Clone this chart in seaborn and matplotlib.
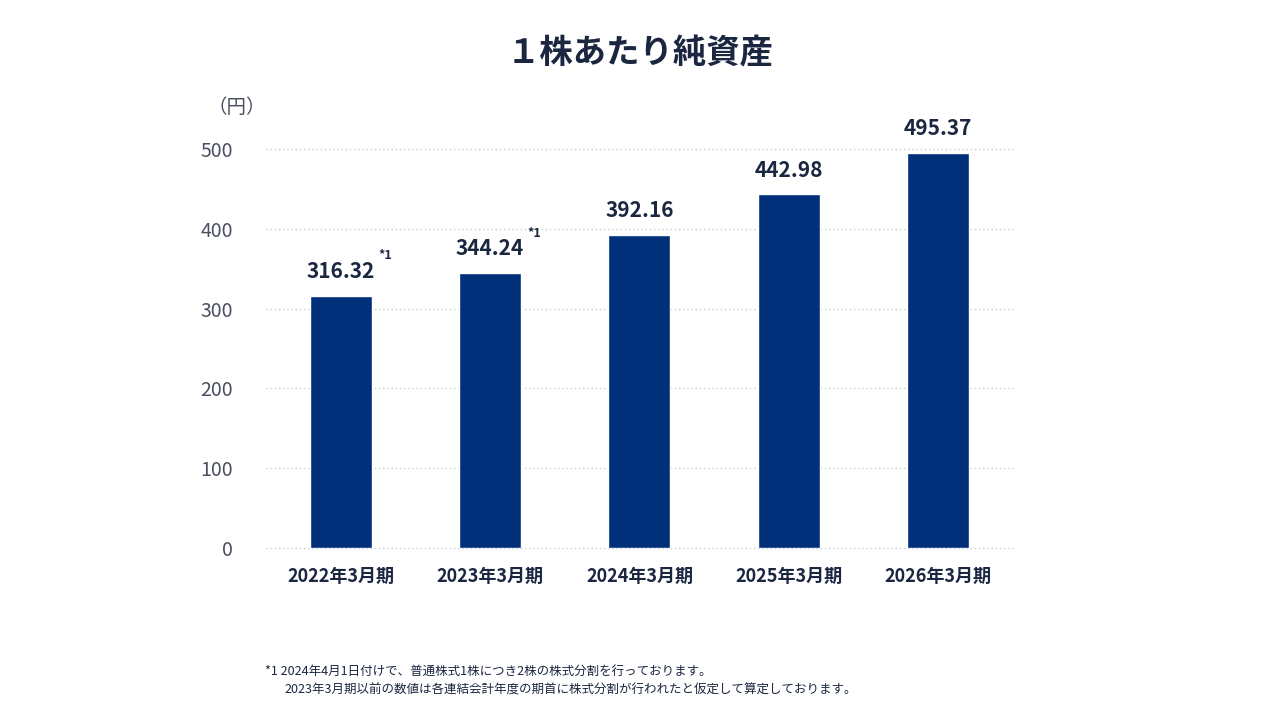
import matplotlib
matplotlib.use("Agg")
import matplotlib.pyplot as plt
import seaborn as sns
import pandas as pd

periods = ["2022年3月期", "2023年3月期", "2024年3月期", "2025年3月期", "2026年3月期"]
bps = [316.32, 344.24, 392.16, 442.98, 495.37]
notes = ["*1", "*1", "", "", ""]
yticks = [0, 100, 200, 300, 400, 500]

sns.set_style("white")
plt.rcParams['font.family'] = ['Noto Sans CJK JP', 'DejaVu Sans']

txt = "#1b2640"
fig = plt.figure(figsize=(12.8, 7.2), dpi=100)
ax = fig.add_axes([0.2078, 0.2389, 0.5836, 0.5542])

df = pd.DataFrame({"period": periods, "bps": bps})
sns.barplot(data=df, x="period", y="bps", color="#00307a", saturation=1, width=0.415, ax=ax, zorder=3)

ax.set_xlim(-0.5, 4.5)
ax.set_ylim(0, 500)
ax.set_yticks(yticks)
ax.set_yticklabels([str(t) for t in yticks], fontsize=14, color="#4a5060")
ax.tick_params(axis="y", length=0, pad=24)
ax.tick_params(axis="x", length=0, pad=14)
for lbl in ax.get_xticklabels():
    lbl.set_fontsize(13)
    lbl.set_fontweight("bold")
    lbl.set_color(txt)
ax.set_xlabel("")
ax.set_ylabel("")
for s in ax.spines.values():
    s.set_visible(False)
for t in yticks:
    ax.axhline(t, color="#cccccc", linestyle=(0, (1, 2)), linewidth=1, zorder=1, clip_on=False)

for i, (v, n) in enumerate(zip(bps, notes)):
    ax.annotate(f"{v:.2f}", (i, v), xytext=(0, 10), textcoords="offset points",
                ha="center", va="bottom", fontsize=15, fontweight="bold", color=txt, annotation_clip=False)
    if n:
        ax.annotate(n, (i, v), xytext=(27, 24), textcoords="offset points",
                    ha="left", va="bottom", fontsize=9, fontweight="bold", color=txt, annotation_clip=False)

fig.text(0.5, 0.925, "１株あたり純資産", ha="center", va="center", fontsize=24, fontweight="bold", color=txt)
fig.text(0.162, 0.851, "（円）", ha="left", va="center", fontsize=14, color="#4a5060")
fig.text(0.207, 0.068, "*1 2024年4月1日付けで、普通株式1株につき2株の株式分割を行っております。", fontsize=9, color=txt, va="center")
fig.text(0.222, 0.041, "2023年3月期以前の数値は各連結会計年度の期首に株式分割が行われたと仮定して算定しております。", fontsize=9, color=txt, va="center")

fig.savefig("out.png", dpi=100)
